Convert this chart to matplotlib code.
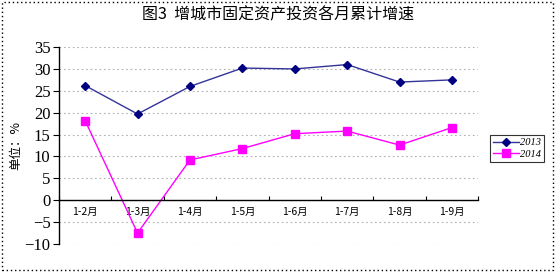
import matplotlib
matplotlib.use("Agg")
import matplotlib.pyplot as plt
import numpy as np
from matplotlib.patches import Rectangle

categories = ["1-2月", "1-3月", "1-4月", "1-5月", "1-6月", "1-7月", "1-8月", "1-9月"]
s2013 = [26.2, 19.7, 26.0, 30.2, 30.0, 31.0, 27.0, 27.5]
s2014 = [18.2, -7.5, 9.2, 11.8, 15.2, 15.8, 12.6, 16.6]
yticks = [-10, -5, 0, 5, 10, 15, 20, 25, 30, 35]

cjk = ["Noto Sans CJK SC", "DejaVu Sans"]
serif = ["Liberation Serif", "DejaVu Serif"]

fig = plt.figure(figsize=(5.56, 2.72), dpi=100)
ax = fig.add_axes([0.106, 0.103, 0.754, 0.724])

x = np.arange(len(categories))
ax.plot(x, s2013, color="#333399", lw=1.0, marker="D", ms=4, mfc="#000080", mec="#000080", label="2013")
ax.plot(x, s2014, color="#FF00FF", lw=1.0, marker="s", ms=6, mfc="#FF00FF", mec="#FF00FF", label="2014")

for s in ["top", "right"]:
    ax.spines[s].set_visible(False)
ax.spines["bottom"].set_position(("data", 0))
ax.spines["bottom"].set_linewidth(1.0)
ax.spines["left"].set_linewidth(1.0)

ax.set_xlim(-0.5, len(categories) - 0.5)
ax.set_ylim(-10, 35)
ax.set_yticks(yticks)
ax.set_yticklabels([str(v).replace("-", "\u2212") for v in yticks], family=serif, fontsize=12)
ax.yaxis.grid(True, color="#b0b0b0", ls=(0, (1.5, 2.5)), lw=0.8)
ax.set_axisbelow(True)
ax.tick_params(axis="y", direction="out", length=4, width=0.8, pad=2)

ax.set_xticks(x)
ax.set_xticklabels(categories, family=cjk, fontsize=7.5)
ax.set_xticks(np.arange(len(categories) + 1) - 0.5, minor=True)
ax.tick_params(axis="x", which="major", length=0, pad=5)
ax.tick_params(axis="x", which="minor", direction="in", length=3, width=0.8)

ax.set_ylabel("单位：%", family=cjk, fontsize=9, labelpad=2)

fig.text(0.5, 0.945, "图3  增城市固定资产投资各月累计增速", family=cjk, fontsize=11.5,
         ha="center", va="center")

leg = ax.legend(loc="upper left", bbox_to_anchor=(1.015, 0.58), prop={"family": serif, "style": "italic", "size": 7.5},
                frameon=True, fancybox=False, edgecolor="#333333", framealpha=1,
                handlelength=2.5, borderpad=0.3, labelspacing=0.2, handletextpad=0.1)
leg.get_frame().set_linewidth(0.8)

fig.patches.append(Rectangle((0.004, 0.006), 0.99, 0.988, transform=fig.transFigure, fill=False,
                             ec="black", lw=1.0, ls=(0, (1, 2))))

fig.savefig("out.png", dpi=100)
